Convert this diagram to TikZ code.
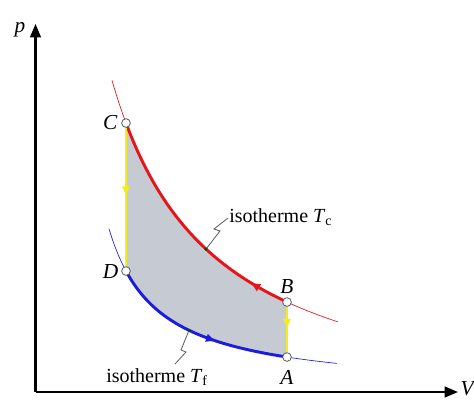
\documentclass[tikz,border=0pt]{standalone}
\usepackage{fontspec}
\setmainfont{Liberation Serif}
\usetikzlibrary{arrows.meta,decorations.markings}
\definecolor{cred}{HTML}{E8141C}
\definecolor{cblue}{HTML}{1C1CE0}
\definecolor{cyel}{HTML}{F2EE1E}
\definecolor{cfill}{HTML}{C6CBD3}
\definecolor{cleader}{HTML}{5A5A5A}
\pgfmathdeclarefunction{ry}{1}{\pgfmathparse{429.2-350.26/(#1-11.6)*100}}
\pgfmathdeclarefunction{by}{1}{\pgfmathparse{392.2-79.74/(#1-60.2)*100}}
\tikzset{
  axis/.style={line width=1.6pt,-{Triangle[length=10pt,width=8pt]}},
  thinred/.style={cred,line width=0.5pt},
  thinblue/.style={cblue,line width=0.5pt},
  thickred/.style={cred,line width=2.2pt},
  thickblue/.style={cblue,line width=2.2pt},
  yel/.style={cyel,line width=2pt},
  pt/.style={circle,draw=black!65,fill=white,line width=0.6pt,minimum size=6.5pt,inner sep=0pt},
  lbl/.style={font=\fontsize{16}{19}\selectfont\itshape,inner sep=1pt},
  leader/.style={cleader,line width=0.6pt},
  midarrow/.style={postaction={decorate},decoration={markings,mark=at position #1 with {\arrow{Latex[length=8pt,width=6.5pt]}}}}
}
\begin{document}
\begin{tikzpicture}[x=0.75pt,y=-0.75pt,font=\fontsize{15}{18}\selectfont]
\useasboundingbox (0,0) rectangle (474,403);
% filled cycle
\fill[cfill] plot[domain=126:287,samples=80] (\x,{ry(\x)}) -- plot[domain=287:126,samples=80] (\x,{by(\x)}) -- cycle;
% thin isotherms
\draw[thinred] plot[domain=112:338,samples=120] (\x,{ry(\x)});
\draw[thinblue] plot[domain=109:337,samples=120] (\x,{by(\x)});
% thick isotherm parts
\draw[thickred,midarrow=0.17] plot[domain=287:126,samples=100] (\x,{ry(\x)});
\draw[thickblue,midarrow=0.62] plot[domain=126:287,samples=100] (\x,{by(\x)});
% axes
\coordinate (O) at (35.5,392);
\coordinate (ptop) at (35.5,24);
\coordinate (vend) at (458,392);
\draw[axis] (O) -- (ptop);
\draw[axis] (O) -- (vend);
\node[lbl,anchor=east] (plab) at (27,30) {p};
\node[lbl,anchor=east,inner sep=0pt] (vlab) at (474,389) {V};
% state points
\node[pt] (C) at (126,{ry(126)}) {};
\node[pt] (D) at (126,{by(126)}) {};
\node[pt] (B) at (287,{ry(287)}) {};
\node[pt] (A) at (287,{by(287)}) {};
\draw[yel,midarrow=0.5] (C) -- (D);
\draw[yel,midarrow=0.5] (B) -- (A);
\node[lbl,anchor=east] (Cl) at (119,123) {C};
\node[lbl,anchor=east] (Dl) at (120,272) {D};
\node[lbl] (Bl) at (287,287) {B};
\node[lbl] (Al) at (287,377) {A};
% isotherm labels with leaders
\node[anchor=west,inner sep=0pt] (Tc) at (229,217) {isotherme \textit{T}\textsubscript{c}};
\node[inner sep=0pt] (Tf) at (157,377) {isotherme \textit{T}\textsubscript{f}};
\coordinate (rc) at (206,{ry(206)});
\coordinate (bc) at (189,{by(189)});
\draw[leader] (Tc.west) ++(-1,1) -- ++(-14,11) -- ++(6,2) -- (rc);
\fill[black!70!green] (rc) circle (1.3pt);
\draw[leader] (175,364) -- ++(11,-12) -- ++(-5,-2) -- (bc);
\fill[black!70!green] (bc) circle (1.3pt);
\end{tikzpicture}
\end{document}
